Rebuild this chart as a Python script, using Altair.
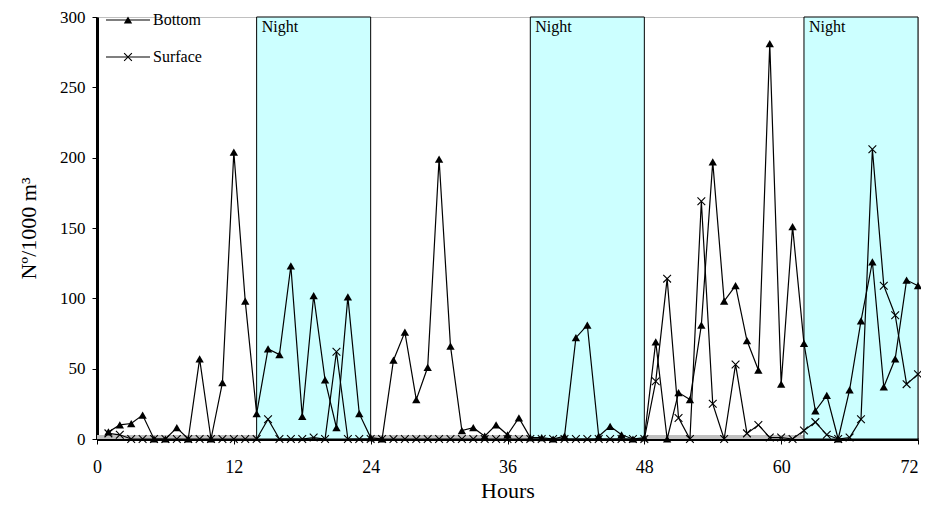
import altair as alt
import pandas as pd

hours = list(range(1, 73))
bottom = [5, 10, 11, 17, 0, 0, 8, 0, 57, 0, 40, 204, 98, 18, 64, 60, 123, 16, 102, 42, 8, 101, 18, 1,
          0, 56, 76, 28, 51, 199, 66, 6, 8, 2, 10, 3, 15, 1, 1, 0, 2, 72, 81, 2, 9, 3, 0, 1,
          69, 0, 33, 28, 81, 197, 98, 109, 70, 49, 281, 39, 151, 68, 20, 31, 0, 35, 84, 126, 37, 57, 113, 109]
surface = [4, 3, 0, 0, 0, 0, 0, 0, 0, 0, 0, 0, 0, 0, 14, 0, 0, 0, 1, 0, 62, 0, 0, 0,
           0, 0, 0, 0, 0, 0, 0, 0, 0, 0, 0, 0, 0, 0, 0, 0, 0, 0, 0, 0, 0, 0, 0, 0,
           41, 114, 15, 0, 169, 25, 0, 53, 4, 10, 1, 1, 0, 6, 12, 3, 0, 1, 14, 206, 109, 88, 39, 46]
night_start = [14, 38, 62]
night_end = [24, 48, 72]
night_label = ["Night", "Night", "Night"]
x_ticks = [0, 12, 24, 36, 48, 60, 72]
y_ticks = [0, 50, 100, 150, 200, 250, 300]
series_names = ["Bottom", "Surface"]

df = pd.DataFrame({"hour": hours, "Bottom": bottom, "Surface": surface})
nights = pd.DataFrame({"start": night_start, "end": night_end, "label": night_label})

FONT = "Liberation Serif"
W, H = 821, 422
xs = alt.Scale(domain=[0, 72], nice=False, zero=False)
ys = alt.Scale(domain=[0, 300], nice=False)

x_axis = alt.Axis(values=x_ticks, title="Hours", grid=False, domainWidth=3, domainColor="black",
                  tickColor="black", tickSize=5, tickWidth=1, labelPadding=14, titlePadding=4,
                  labelFlush=False,
                  labelAlign={"expr": "datum.value >= 72 ? 'right' : 'center'"},
                  labelFontSize=18, titleFontSize=22, labelFont=FONT, titleFont=FONT,
                  labelColor="black", titleColor="black", titleFontWeight="normal")
y_axis = alt.Axis(values=y_ticks, title="Nº/1000 m³", grid=False, domainWidth=3, domainColor="black",
                  tickColor="black", tickSize=5, tickWidth=1, labelPadding=7, titlePadding=19,
                  labelFlush=False,
                  labelFontSize=17, titleFontSize=22, labelFont=FONT, titleFont=FONT,
                  labelColor="black", titleColor="black", titleFontWeight="normal")

X = alt.X("hour:Q", scale=xs, axis=x_axis)

one = pd.DataFrame({"k": [0]})

band = alt.Chart(one).mark_rect(color="#c0c0c0").encode(
    x=alt.value(0), x2=alt.value(W), y=alt.value(H - 4), y2=alt.value(H))

night_rects = alt.Chart(nights).mark_rect(fill="#ccffff", stroke="black", strokeWidth=1).encode(
    x=alt.X("start:Q", scale=xs, axis=x_axis), x2="end:Q",
    y=alt.value(0), y2=alt.value(H))

night_text = alt.Chart(nights).mark_text(align="left", baseline="middle", dx=5, font=FONT,
                                          fontSize=16, color="black").encode(
    x=alt.X("start:Q", scale=xs, axis=x_axis), y=alt.value(10), text="label:N")

bottom_line = alt.Chart(df).mark_line(color="black", strokeWidth=1.2).encode(
    x=X, y=alt.Y("Bottom:Q", scale=ys, axis=y_axis))
bottom_pts = alt.Chart(df).mark_point(shape="triangle-up", filled=True, color="black", size=70, opacity=1).encode(
    x=X, y=alt.Y("Bottom:Q", scale=ys, axis=y_axis))

CROSS = "M-1,-1L1,1M-1,1L1,-1"
surface_line = alt.Chart(df).mark_line(color="black", strokeWidth=1.2).encode(
    x=X, y=alt.Y("Surface:Q", scale=ys, axis=y_axis))
surface_pts = alt.Chart(df).mark_point(shape=CROSS, filled=False, color="black", size=60,
                                       strokeWidth=1.1, opacity=1).encode(
    x=X, y=alt.Y("Surface:Q", scale=ys, axis=y_axis))

# legend (manual)
leg_y = [3, 40]
leg = []
for name, ly, shape, filled in [(series_names[0], leg_y[0], "triangle-up", True),
                                 (series_names[1], leg_y[1], CROSS, False)]:
    leg.append(alt.Chart(one).mark_rule(color="black", strokeWidth=1.2).encode(
        x=alt.value(9), x2=alt.value(53), y=alt.value(ly)))
    leg.append(alt.Chart(one).mark_point(shape=shape, filled=filled, color="black", size=70 if filled else 60,
                                         strokeWidth=1.1, opacity=1).encode(
        x=alt.value(31), y=alt.value(ly)))
    leg.append(alt.Chart(pd.DataFrame({"t": [name]})).mark_text(
        align="left", baseline="middle", font=FONT, fontSize=16, color="black").encode(
        x=alt.value(56), y=alt.value(ly), text="t:N"))

chart = alt.layer(band, night_rects, night_text, bottom_line, surface_line, bottom_pts, surface_pts, *leg).properties(
    width=W, height=H,
    padding={"left": 89, "top": 9, "right": 3, "bottom": 65},
    autosize=alt.AutoSizeParams(type="none"),
    background="white",
).configure_view(stroke="#c0c0c0", strokeWidth=1)

chart.save("out.html", embed_options={"renderer": "svg", "actions": False})
